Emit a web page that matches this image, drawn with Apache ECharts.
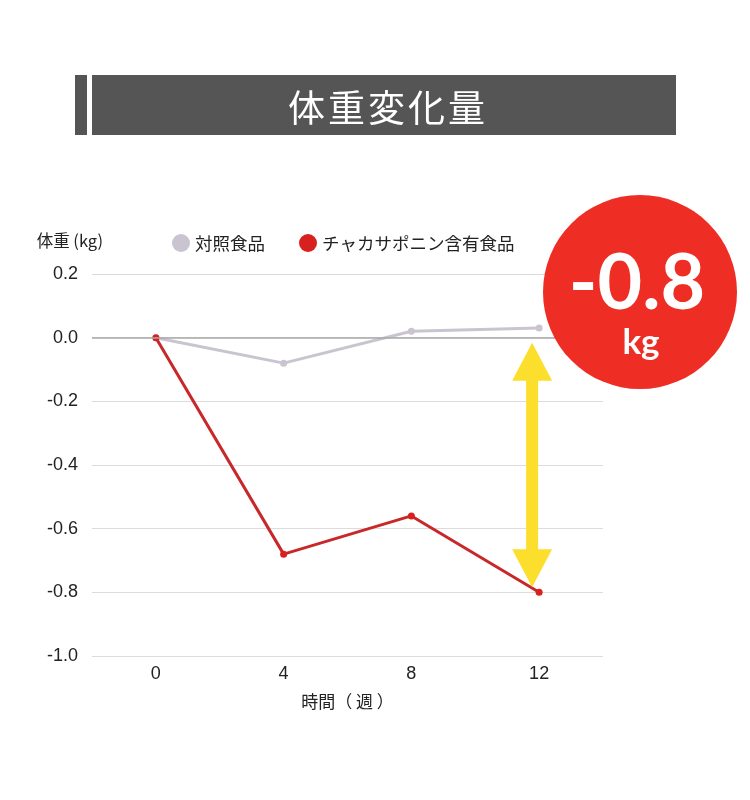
<!DOCTYPE html>
<html><head><meta charset="utf-8">
<script src="https://cdn.jsdelivr.net/npm/echarts@6/dist/echarts.min.js"></script>
<style>html,body{margin:0;padding:0;background:#fff}#c{width:750px;height:800px}</style>
</head><body><div id="c"></div>
<script>
const weeks = ['0', '4', '8', '12'];
const controlValues = [0, -0.08, 0.02, 0.03];
const chiaValues = [0, -0.68, -0.56, -0.80];
const yTicks = [0.2, 0.0, -0.2, -0.4, -0.6, -0.8, -1.0];
const seriesNames = ['対照食品', 'チャカサポニン含有食品'];
const titleText = '体重変化量';
const badgeValue = '-0.8';
const badgeUnit = 'kg';

(function () {
const FONT = '"Noto Sans CJK JP","Noto Sans",sans-serif';
const NUM = '"Liberation Sans",Arial,sans-serif';
const chart = echarts.init(document.getElementById('c'), null, {renderer: 'canvas'});
chart.setOption({
  animation: false,
  backgroundColor: '#fff',
  grid: {left: 92, right: 147, top: 274, bottom: 144},
  legend: {
    left: 167, top: 229, icon: 'circle', itemWidth: 18, itemHeight: 18, itemGap: 34,
    textStyle: {fontSize: 17.5, color: '#222', fontFamily: FONT},
    data: seriesNames
  },
  xAxis: {
    type: 'category', data: weeks, boundaryGap: true,
    name: '時間（ 週 ）', nameLocation: 'middle', nameGap: 37,
    nameTextStyle: {fontSize: 17, color: '#222', fontFamily: FONT},
    axisLine: {show: false}, axisTick: {show: false},
    axisLabel: {fontSize: 18, color: '#222', margin: 9, fontFamily: NUM}
  },
  yAxis: {
    type: 'value', min: -1.0, max: 0.2, interval: 0.2,
    name: '体重 (kg)', nameLocation: 'end', nameGap: 25,
    nameTextStyle: {fontSize: 16.5, color: '#222', fontFamily: FONT, align: 'right', padding: [0, -11, 0, 0]},
    axisLine: {show: false}, axisTick: {show: false},
    axisLabel: {fontSize: 18, color: '#222', margin: 14, fontFamily: NUM,
      formatter: v => (Math.abs(v) < 1e-9 ? 0 : v).toFixed(1)},
    splitLine: {lineStyle: {color: '#dcdcdc', width: 1}}
  },
  series: [
    {
      name: seriesNames[0], type: 'line', data: controlValues,
      symbol: 'circle', symbolSize: 7, color: '#c9c4cf',
      lineStyle: {width: 3, color: '#c9c4cf'}, itemStyle: {color: '#c9c4cf'},
      markLine: {silent: true, symbol: 'none', label: {show: false},
        lineStyle: {color: '#a8a8a8', width: 1.5, type: 'solid'}, data: [{yAxis: 0}]},
      z: 2
    },
    {
      name: seriesNames[1], type: 'line', data: chiaValues,
      symbol: 'circle', symbolSize: 7, color: '#d8201e',
      lineStyle: {width: 3, color: '#c8282a'}, itemStyle: {color: '#d8201e'},
      z: 3
    }
  ]
});

const pTop = chart.convertToPixel({gridIndex: 0}, ['12', 0]);
const pBot = chart.convertToPixel({gridIndex: 0}, ['12', chiaValues[3]]);
const ax = pTop[0] - 7, y0 = pTop[1] + 5, y1 = pBot[1] - 5;
const hw = 20, hl = 38, sw = 6;
const arrowPts = [
  [ax, y0], [ax + hw, y0 + hl], [ax + sw, y0 + hl], [ax + sw, y1 - hl], [ax + hw, y1 - hl],
  [ax, y1], [ax - hw, y1 - hl], [ax - sw, y1 - hl], [ax - sw, y0 + hl], [ax - hw, y0 + hl]
];

const titleChars = Array.from(titleText).map((ch, i) => ({
  type: 'text', x: 306.5 + i * 40, y: 108,
  style: {text: ch, fill: '#fff', fontSize: 37, fontFamily: FONT, align: 'center', verticalAlign: 'middle'}
}));

chart.setOption({
  graphic: [
    {type: 'rect', shape: {x: 75, y: 75, width: 12, height: 60}, style: {fill: '#555555'}},
    {type: 'rect', shape: {x: 92, y: 75, width: 584, height: 60}, style: {fill: '#555555'}},
    ...titleChars,
    {type: 'polygon', shape: {points: arrowPts}, style: {fill: '#fcdf2c'}, z: 10},
    {type: 'circle', shape: {cx: 640, cy: 292, r: 97}, style: {fill: '#ee2d24'}, z: 20},
    {type: 'text', x: 637, y: 284, z: 21, style: {text: badgeValue, fill: '#fff', fontSize: 77,
      fontWeight: 'bold', fontFamily: 'Lato, "Noto Sans", sans-serif', align: 'center', verticalAlign: 'middle'}},
    {type: 'text', x: 641, y: 343, z: 21, style: {text: badgeUnit, fill: '#fff', fontSize: 35,
      fontWeight: 'bold', fontFamily: 'Lato, "Noto Sans", sans-serif', align: 'center', verticalAlign: 'middle'}}
  ]
});
})();
</script>
</body></html>
